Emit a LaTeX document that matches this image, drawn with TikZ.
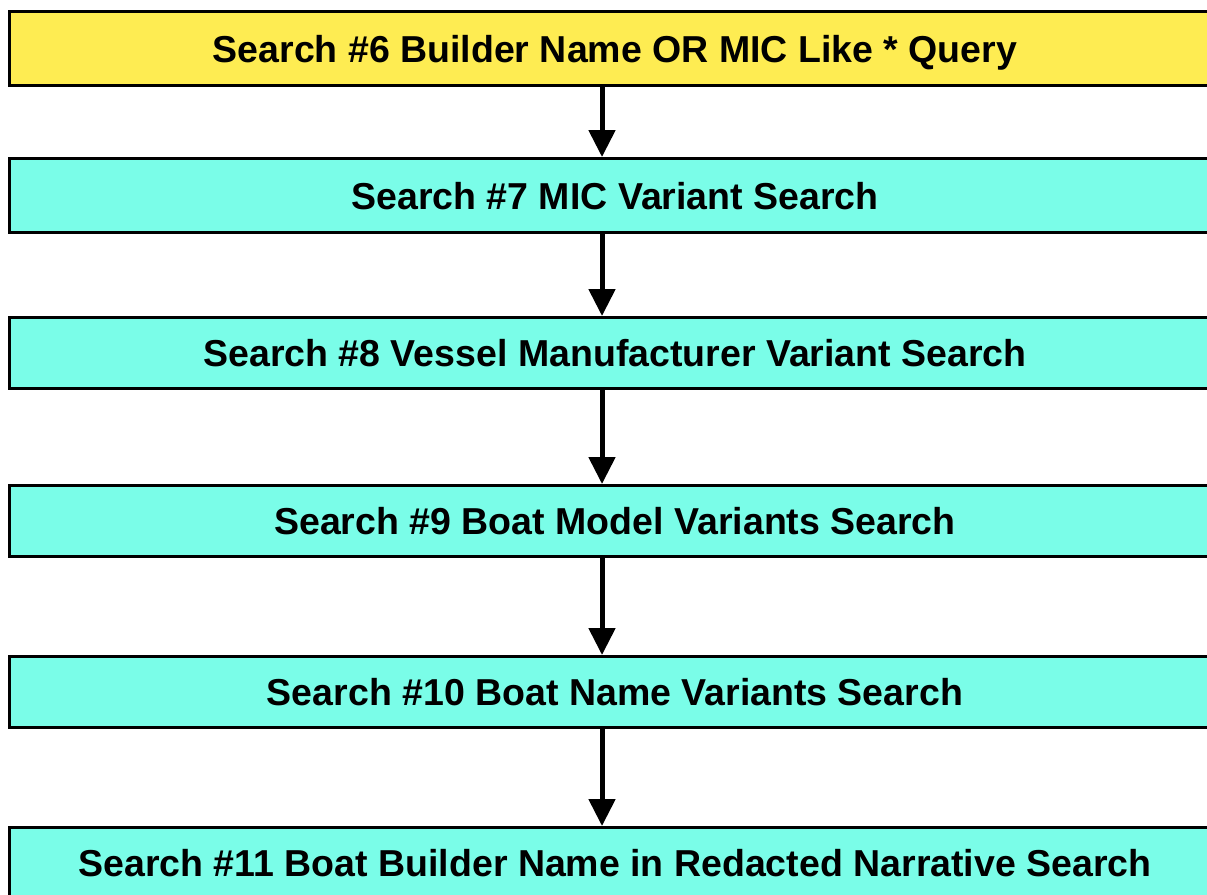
\documentclass[tikz,border=0pt]{standalone}
\usepackage{fontspec}
\setmainfont{Liberation Sans}
\usetikzlibrary{arrows.meta}
\definecolor{boxyellow}{RGB}{254,236,82}
\definecolor{boxcyan}{RGB}{122,253,232}
\tikzset{
  box/.style={draw=black, line width=3pt, minimum width=1211pt, inner sep=0pt,
    text height=27pt, text depth=0pt,
    font=\fontsize{37.5}{42}\selectfont\bfseries, text=black},
  flowarrow/.style={line width=5pt, -{Triangle[width=26pt,length=27pt]}}
}
\begin{document}
\begin{tikzpicture}[x=1pt,y=-1pt]
\useasboundingbox (0,0) rectangle (1207,894);
\clip (0,0) rectangle (1207,894);
\fill[white] (0,0) rectangle (1207,894);
\node[box, fill=boxyellow, minimum height=74pt] (b1) at (615,48.5) {Search \#6 Builder Name OR MIC Like * Query};
\node[box, fill=boxcyan, minimum height=74pt] (b2) at (615,195.5) {Search \#7 MIC Variant Search};
\node[box, fill=boxcyan, minimum height=71pt] (b3) at (615,353) {Search \#8 Vessel Manufacturer Variant Search};
\node[box, fill=boxcyan, minimum height=71pt] (b4) at (615,521) {Search \#9 Boat Model Variants Search};
\node[box, fill=boxcyan, minimum height=71pt] (b5) at (615,692) {Search \#10 Boat Name Variants Search};
\node[box, fill=boxcyan, minimum height=71pt] (b6) at (615,863) {Search \#11 Boat Builder Name in Redacted Narrative Search};
\coordinate (ax) at (602,0);
\draw[flowarrow] (b1.south -| ax) -- (b2.north -| ax);
\draw[flowarrow] (b2.south -| ax) -- (b3.north -| ax);
\draw[flowarrow] (b3.south -| ax) -- (b4.north -| ax);
\draw[flowarrow] (b4.south -| ax) -- (b5.north -| ax);
\draw[flowarrow] (b5.south -| ax) -- (b6.north -| ax);
\end{tikzpicture}
\end{document}
